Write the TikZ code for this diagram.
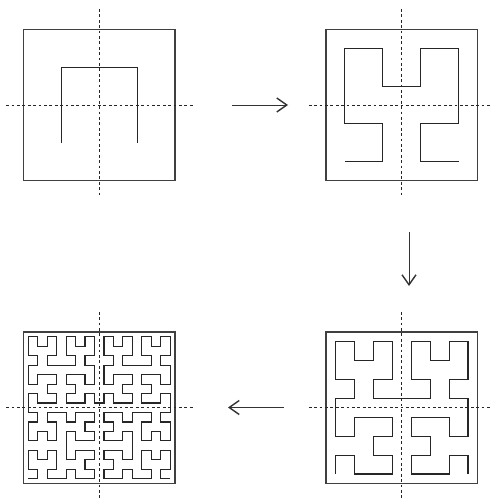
\documentclass[tikz,border=0pt]{standalone}
\usetikzlibrary{arrows.meta}
\tikzset{
  frame/.style={draw=black!75, line width=1.1pt},
  curve/.style={draw=black!85, line width=1.1pt, line join=miter},
  axisline/.style={draw=black!85, line width=0.9pt, dash pattern=on 2.8pt off 2.6pt},
  flow/.style={draw=black!80, line width=0.9pt, -{Straight Barb[length=10pt,width=14pt,line width=1.4pt]}}
}
\newcount\hdir
\def\hplus{\global\advance\hdir 1 \ifnum\hdir>3 \global\advance\hdir -4 \fi}
\def\hminus{\global\advance\hdir -1 \ifnum\hdir<0 \global\advance\hdir 4 \fi}
\def\hF{\ifcase\hdir
    \xdef\hpath{\hpath -- ++(\hstep,0)}\or
    \xdef\hpath{\hpath -- ++(0,-\hstep)}\or
    \xdef\hpath{\hpath -- ++(-\hstep,0)}\or
    \xdef\hpath{\hpath -- ++(0,\hstep)}\fi}
\def\hL#1{\ifnum#1>0 \hplus\hR{\numexpr#1-1\relax}\hF\hminus\hL{\numexpr#1-1\relax}\hF\hL{\numexpr#1-1\relax}\hminus\hF\hR{\numexpr#1-1\relax}\hplus\fi}
\def\hR#1{\ifnum#1>0 \hminus\hL{\numexpr#1-1\relax}\hF\hplus\hR{\numexpr#1-1\relax}\hF\hR{\numexpr#1-1\relax}\hplus\hF\hL{\numexpr#1-1\relax}\hminus\fi}
\newcommand{\hilbertbox}[4]{%
  % #1 left, #2 top, #3 order, #4 step
  \draw[frame] (#1,#2) rectangle ++(151.5,151.5);
  \gdef\hpath{}\global\hdir=0
  \gdef\hstep{#4}%
  \hL{#3}%
  \pgfmathsetmacro{\hx}{#1+0.5*#4}%
  \pgfmathsetmacro{\hy}{#2+151.5-0.5*#4}%
  \edef\hnext{\noexpand\draw[curve] (\hx,\hy) \hpath;}\hnext
  \draw[axisline] (#1+75.75-93,#2+75.75) -- (#1+75.75+94,#2+75.75);
  \draw[axisline] (#1+75.75,#2+75.75-96) -- (#1+75.75,#2+75.75+91);
}
\begin{document}
\begin{tikzpicture}[x=1pt,y=-1pt]
  \useasboundingbox (0,0) rectangle (492,498);
  \hilbertbox{23.5}{29.25}{1}{75.75}
  \hilbertbox{326}{29.25}{2}{37.875}
  \hilbertbox{326}{332}{3}{18.9375}
  \hilbertbox{23.5}{332}{4}{9.46875}
  \coordinate (r1) at (232,105);
  \coordinate (r2) at (288,105);
  \coordinate (d1) at (409,232);
  \coordinate (d2) at (409,286);
  \coordinate (l1) at (284,407.5);
  \coordinate (l2) at (228,407.5);
  \draw[flow] (r1) -- (r2);
  \draw[flow] (d1) -- (d2);
  \draw[flow] (l1) -- (l2);
\end{tikzpicture}
\end{document}
